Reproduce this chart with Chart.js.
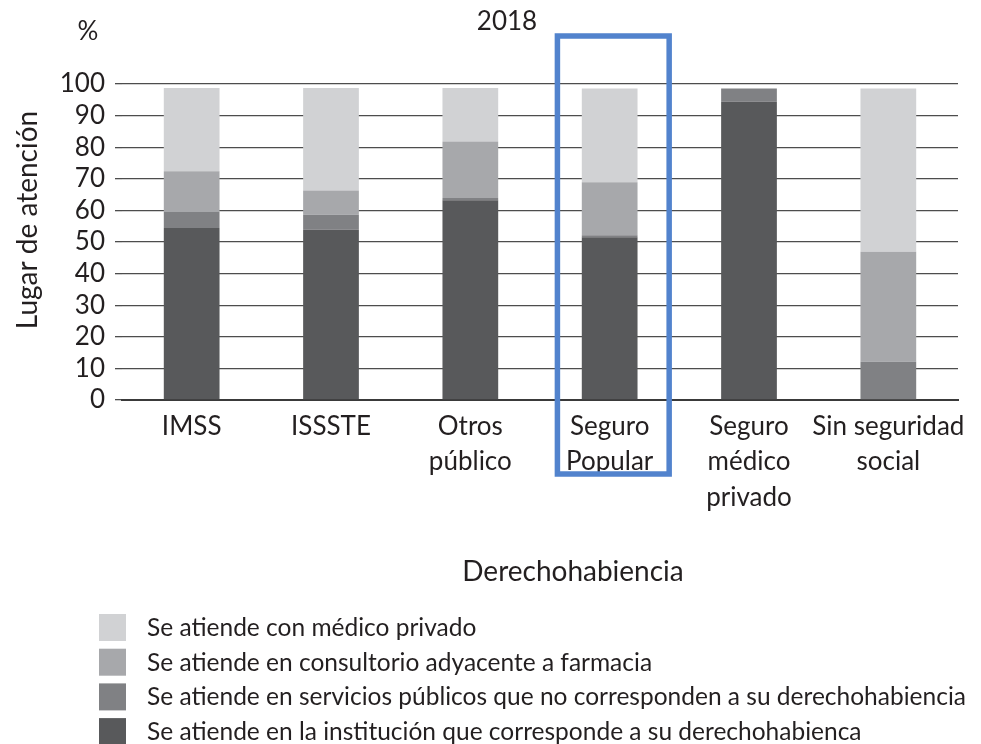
<!DOCTYPE html>
<html lang="es">
<head>
  <meta charset="UTF-8">
  <title>Lugar de atención 2018</title>
  <style>
    html, body { margin: 0; padding: 0; background: #fff; }
  </style>
</head>
<body>

  <div>
    <canvas id="myChart" width="981" height="744"></canvas>
  </div>

  <script src="https://cdn.jsdelivr.net/npm/chart.js"></script>

  <script>
    // datos (%)
    const categorias = [['IMSS'], ['ISSSTE'], ['Otros', 'público'], ['Seguro', 'Popular'], ['Seguro', 'médico', 'privado'], ['Sin seguridad', 'social']]
    const enInstitucion = [54.4, 53.9, 63.2, 51.5, 94.4, 0]
    const serviciosPublicos = [5.1, 4.7, 0.7, 0.6, 4.2, 12.1]
    const consultorioFarmacia = [12.9, 7.7, 17.9, 16.8, 0, 34.8]
    const medicoPrivado = [26.3, 32.4, 16.9, 29.7, 0, 51.7]
    const yTicks = [0, 10, 20, 30, 40, 50, 60, 70, 80, 90, 100]

    const etiquetas = [
      'Se atiende en la institución que corresponde a su derechohabienca',
      'Se atiende en servicios públicos que no corresponden a su derechohabiencia',
      'Se atiende en consultorio adyacente a farmacia',
      'Se atiende con médico privado'
    ]
    const colores = ['#58595b', '#808184', '#a7a8ab', '#d1d2d4']

    const fuente = 'Lato'
    const colorTexto = '#231f20'

    const series = [enInstitucion, serviciosPublicos, consultorioFarmacia, medicoPrivado]

    let data = {
      labels: categorias,
      datasets: series.map(function (valores, i) {
        return {
          label: etiquetas[i],
          data: valores,
          backgroundColor: colores[i],
          borderWidth: 0,
          categoryPercentage: 1,
          barPercentage: 0.4
        }
      })
    }

    // textos sueltos, leyenda y recuadro azul
    const anotaciones = {
      id: 'anotaciones',
      afterDraw: function (chart) {
        const ctx = chart.ctx
        const area = chart.chartArea
        const x = chart.scales.x
        ctx.save()
        ctx.fillStyle = colorTexto
        ctx.textBaseline = 'middle'
        ctx.textAlign = 'center'
        ctx.font = '26px ' + fuente
        ctx.fillText('%', 88, 32)
        ctx.fillText('2018', 507, 22)
        ctx.font = '28px ' + fuente
        ctx.fillText('Derechohabiencia', 573, 572)

        ctx.save()
        ctx.translate(28, 220)
        ctx.rotate(-Math.PI / 2)
        ctx.fillText('Lugar de atención', 0, 0)
        ctx.restore()

        // leyenda (de arriba hacia abajo, orden inverso a las series)
        ctx.textAlign = 'left'
        ctx.font = '24.5px ' + fuente
        for (let i = 0; i < 4; i++) {
          const ds = chart.data.datasets[3 - i]
          const top = 614 + i * 34.7
          ctx.fillStyle = ds.backgroundColor
          ctx.fillRect(99, top, 27, 27)
          ctx.fillStyle = colorTexto
          ctx.fillText(ds.label, 147, top + 14)
        }

        // recuadro sobre Seguro Popular
        const cw = x.width / categorias.length
        const cx = x.getPixelForValue(3)
        ctx.strokeStyle = '#5283cd'
        ctx.lineWidth = 5.5
        ctx.strokeRect(cx - 0.375 * cw, area.top - 48, 0.802 * cw, area.bottom - area.top + 122)
        ctx.restore()
      }
    }

    const config = {
      type: 'bar',
      data: data,
      plugins: [anotaciones],
      options: {
        responsive: false,
        animation: false,
        layout: {
          padding: { top: 84, right: 23, bottom: 144, left: 0 }
        },
        plugins: {
          legend: { display: false },
          tooltip: { enabled: false }
        },
        scales: {
          x: {
            stacked: true,
            grid: { display: false },
            border: { display: true, color: '#3a3a3a', width: 2 },
            ticks: {
              color: colorTexto,
              font: { family: fuente, size: 26, lineHeight: 1.36 },
              padding: 1,
              maxRotation: 0,
              autoSkip: false
            },
            afterFit: function (scale) { scale.height = 200 }
          },
          y: {
            stacked: true,
            min: 0,
            max: 100,
            afterBuildTicks: function (scale) {
              scale.ticks = yTicks.map(function (v) { return { value: v } })
            },
            grid: { color: '#4d4d4d', lineWidth: 1.3, tickLength: 7 },
            border: { display: false },
            ticks: {
              color: colorTexto,
              font: { family: fuente, size: 26 },
              padding: 10,
              autoSkip: false
            },
            afterFit: function (scale) { scale.width = 122 }
          }
        }
      }
    }

    const myChart = new Chart(document.getElementById('myChart'), config)
  </script>

</body>
</html>
